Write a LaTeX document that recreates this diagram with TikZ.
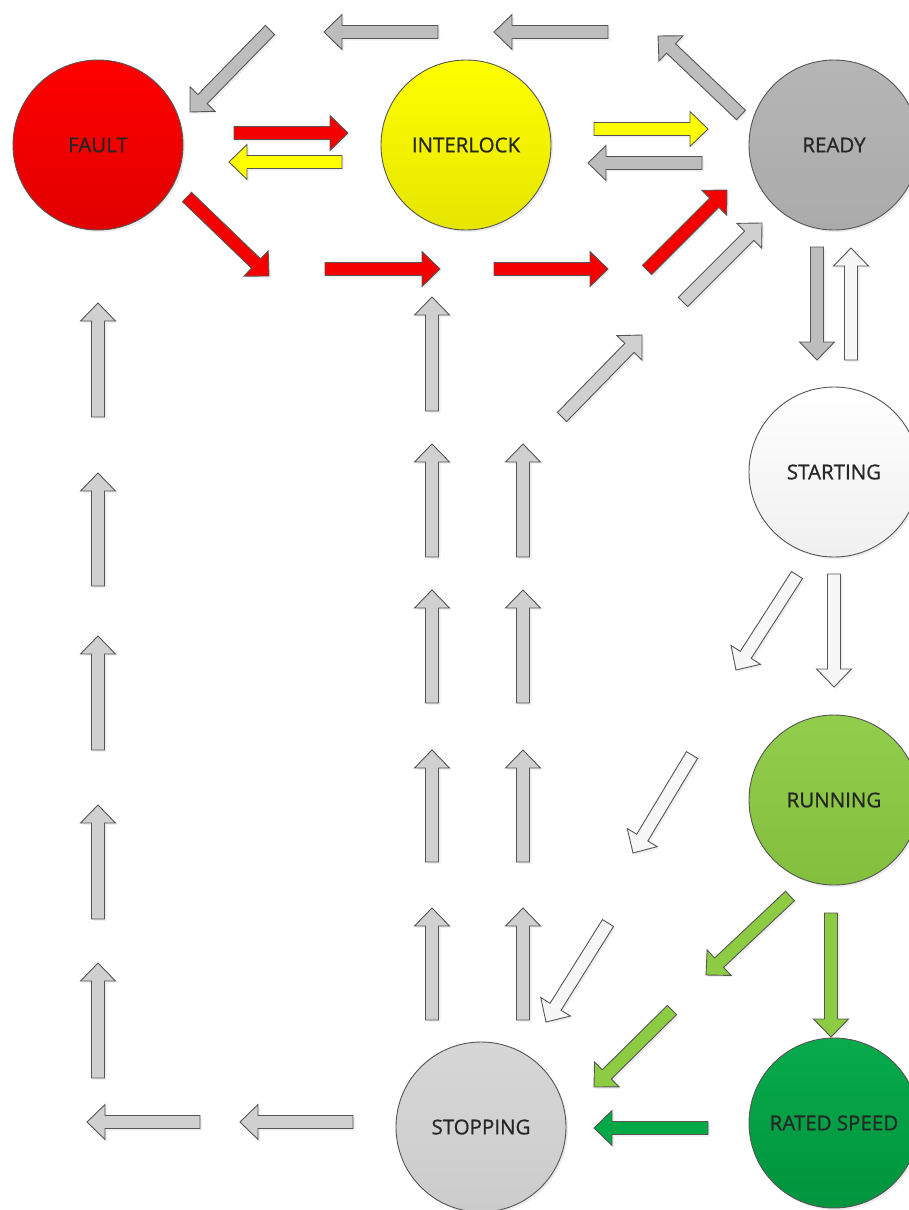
\documentclass[tikz,border=0pt]{standalone}
\usepackage{fontspec}
\setmainfont{Open Sans}
\newfontfamily\lblfont{Open Sans}[FakeBold=0.8]
\usetikzlibrary{calc,shadows}
\definecolor{grayA}{HTML}{BDBDBD}
\definecolor{grayB}{HTML}{D0D0D0}
\definecolor{whiteA}{HTML}{F7F7F7}
\definecolor{redA}{HTML}{F40000}
\definecolor{yellowA}{HTML}{FFFF00}
\definecolor{greenA}{HTML}{8CCB42}
\definecolor{greenB}{HTML}{00A846}
\definecolor{outl}{HTML}{555555}
\tikzset{
  state/.style={circle, draw=outl, line width=0.9pt, minimum size=170pt, inner sep=0pt,
    font=\lblfont\fontsize{20.5}{23}\selectfont, text=black!85,
    drop shadow={shadow xshift=2pt, shadow yshift=-2pt, opacity=0.15}},
  blk/.style={draw=outl, line width=0.9pt, line join=miter,
    drop shadow={shadow xshift=2pt, shadow yshift=-2pt, opacity=0.12},
    to path={
      ($(\tikztostart)!6.5pt!90:(\tikztotarget)$) --
      ($(\tikztotarget)!18pt!(\tikztostart)!6.5pt!90:(\tikztotarget)$) --
      ($(\tikztotarget)!18pt!(\tikztostart)!17.5pt!90:(\tikztotarget)$) --
      (\tikztotarget) --
      ($(\tikztotarget)!18pt!(\tikztostart)!17.5pt!-90:(\tikztotarget)$) --
      ($(\tikztotarget)!18pt!(\tikztostart)!6.5pt!-90:(\tikztotarget)$) --
      ($(\tikztostart)!6.5pt!-90:(\tikztotarget)$) -- cycle}}
}
\begin{document}
\begin{tikzpicture}[x=1pt,y=-1pt]
\useasboundingbox[fill=white] (0,0) rectangle (909,1210);
% states
\node[state, top color=red!100, bottom color=red!88!black] (fault) at (98,145) {FAULT};
\node[state, top color=yellowA, bottom color=yellowA!90!black] (interlock) at (466,145) {INTERLOCK};
\node[state, top color=gray!58, bottom color=gray!66] (ready) at (834,145) {READY};
\node[state, top color=white, bottom color=gray!12] (starting) at (834,472) {STARTING};
\node[state, top color=greenA!95!white, bottom color=greenA!94!black] (running) at (834,800) {RUNNING};
\node[state, top color=greenB!97!white, bottom color=greenB!88!black] (rated) at (834,1123) {RATED SPEED};
\node[state, top color=gray!32, bottom color=gray!40] (stopping) at (481,1127) {STOPPING};
% arrows
\foreach \n/\sx/\sy/\tx/\ty/\c in {
  1/270/30/190/112/grayA,
  2/438/32/324/32/grayA,
  3/608/32/494/32/grayA,
  4/741/115/658/36/grayA,
  5/234/133/348/133/redA,
  6/342/162/229/162/yellowA,
  7/594/129/708/129/yellowA,
  8/702/163/588/163/grayA,
  9/187/197/269/276/redA,
  10/325/269/440/269/redA,
  11/494/269/608/269/redA,
  12/647/270/727/190/redA,
  13/683/302/762/223/grayB,
  14/817/247/817/360/grayA,
  15/851/360/851/248/whiteA,
  16/562/417/642/335/grayB,
  17/98/417/98/303/grayB,
  18/98/586/98/473/grayB,
  19/98/750/98/636/grayB,
  20/98/919/98/805/grayB,
  21/98/1078/98/963/grayB,
  22/200/1122/87/1122/grayB,
  23/353/1122/240/1122/grayB,
  24/432/411/432/297/grayB,
  25/432/557/432/444/grayB,
  26/432/703/432/590/grayB,
  27/432/862/432/750/grayB,
  28/432/1020/432/908/grayB,
  29/523/557/523/444/grayB,
  30/523/703/523/590/grayB,
  31/523/862/523/750/grayB,
  32/523/1020/523/908/grayB,
  33/797/575/736/670/whiteA,
  34/834/574/834/687/whiteA,
  35/692/755/633/853/whiteA,
  36/608/923/546/1022/whiteA,
  37/790/896/706/975/greenA,
  38/831/913/831/1037/greenA,
  39/672/1010/594/1087/greenA,
  40/708/1128/594/1128/greenB}
{
  \coordinate (s\n) at (\sx,\sy);
  \coordinate (t\n) at (\tx,\ty);
  \draw[blk, fill=\c] (s\n) to (t\n);
}
\end{tikzpicture}
\end{document}
